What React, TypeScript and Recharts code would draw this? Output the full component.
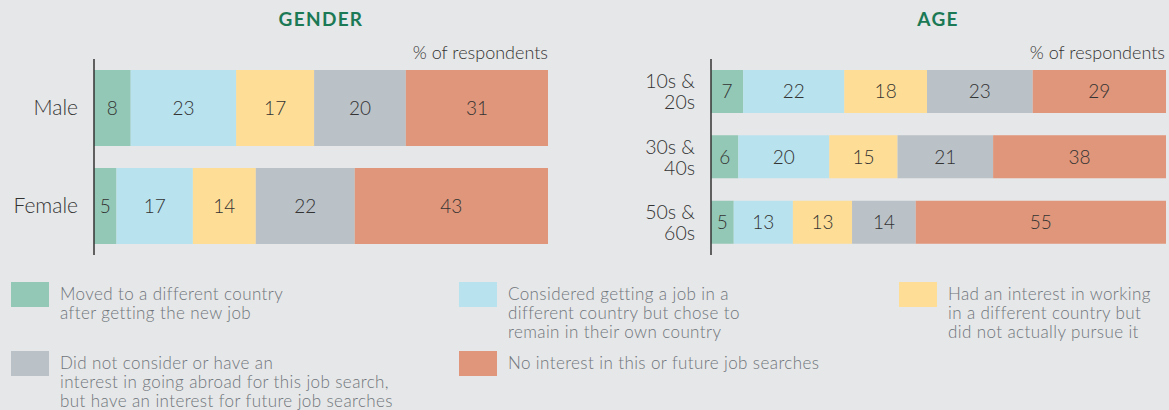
import { BarChart, Bar, XAxis, YAxis, LabelList } from 'recharts';

const seriesKeys = ['moved', 'considered', 'interested', 'notNow', 'noInterest'];
const seriesNames = [
  ['Moved to a different country', 'after getting the new job'],
  ['Considered getting a job in a', 'different country but chose to', 'remain in their own country'],
  ['Had an interest in working', 'in a different country but', 'did not actually pursue it'],
  ['Did not consider or have an', 'interest in going abroad for this job search,', 'but have an interest for future job searches'],
  ['No interest in this or future job searches'],
];
const seriesColors = ['#93c8b6', '#b8e2ee', '#fedd96', '#bac1c7', '#e0967a'];

const genderCategories = ['Male', 'Female'];
const genderMoved = [8, 5];
const genderConsidered = [23, 17];
const genderInterested = [17, 14];
const genderNotNow = [20, 22];
const genderNoInterest = [31, 43];

const ageCategories = ['10s & 20s', '30s & 40s', '50s & 60s'];
const ageMoved = [7, 6, 5];
const ageConsidered = [22, 20, 13];
const ageInterested = [18, 15, 13];
const ageNotNow = [23, 21, 14];
const ageNoInterest = [29, 38, 55];

const buildRows = (cats: string[], cols: number[][]) =>
  cats.map((name, i) => {
    const row: Record<string, string | number> = { name };
    seriesKeys.forEach((k, j) => (row[k] = cols[j][i]));
    return row;
  });

const genderData = buildRows(genderCategories, [genderMoved, genderConsidered, genderInterested, genderNotNow, genderNoInterest]);
const ageData = buildRows(ageCategories, [ageMoved, ageConsidered, ageInterested, ageNotNow, ageNoInterest]);

const FONT = 'Lato, "Open Sans", sans-serif';
const INK = '#333333';

function SingleTick({ x, y, payload }: any) {
  return (
    <text x={x} y={y} dy="0.35em" textAnchor="end" fill={INK} fontSize={21} fontWeight={300} fontFamily={FONT}>
      {payload.value}
    </text>
  );
}

function TwoLineTick({ x, y, payload }: any) {
  const parts = String(payload.value).split('& ');
  return (
    <g>
      <text x={x} y={y - 10} dy="0.35em" textAnchor="end" fill={INK} fontSize={19.5} fontWeight={300} fontFamily={FONT}>
        {parts[0] + '&'}
      </text>
      <text x={x} y={y + 11} dy="0.35em" textAnchor="end" fill={INK} fontSize={19.5} fontWeight={300} fontFamily={FONT}>
        {parts[1]}
      </text>
    </g>
  );
}

function StackedPanel({ data, width, yWidth, rightMargin, tick }: any) {
  return (
    <BarChart
      width={width}
      height={260}
      data={data}
      layout="vertical"
      stackOffset="expand"
      barCategoryGap={11}
      margin={{ top: 59, right: rightMargin, left: 0, bottom: 5 }}
    >
      <XAxis type="number" hide />
      <YAxis
        type="category"
        dataKey="name"
        width={yWidth}
        tickLine={false}
        tickSize={0}
        tickMargin={16}
        axisLine={{ stroke: '#333', strokeWidth: 1.5 }}
        tick={tick}
        interval={0}
      />
      {seriesKeys.map((k, i) => (
        <Bar key={k} dataKey={k} stackId="a" fill={seriesColors[i]} isAnimationActive={false}>
          <LabelList dataKey={k} position="center" fill={INK} fontSize={19} fontWeight={300} fontFamily={FONT} />
        </Bar>
      ))}
    </BarChart>
  );
}

const titleStyle: React.CSSProperties = {
  position: 'absolute',
  top: 7,
  color: '#1b7a55',
  fontFamily: FONT,
  fontWeight: 700,
  fontSize: 19,
  letterSpacing: 1.3,
  transform: 'translateX(-50%)',
  whiteSpace: 'nowrap',
};

const unitStyle: React.CSSProperties = {
  position: 'absolute',
  top: 41,
  color: INK,
  fontFamily: FONT,
  fontWeight: 300,
  fontSize: 18,
  whiteSpace: 'nowrap',
  textAlign: 'right',
};

const legendPos = [
  { left: 11, top: 282 },
  { left: 459, top: 282 },
  { left: 899, top: 282 },
  { left: 11, top: 351 },
  { left: 459, top: 351 },
];

export default function App() {
  return (
    <div style={{ position: 'absolute', left: 0, top: 0, width: 1169, height: 410, background: '#e6e7e8', overflow: 'hidden' }}>
      <div style={{ ...titleStyle, left: 321 }}>GENDER</div>
      <div style={{ ...titleStyle, left: 938 }}>AGE</div>
      <div style={{ ...unitStyle, right: 1169 - 548 }}>% of respondents</div>
      <div style={{ ...unitStyle, right: 1169 - 1165 }}>% of respondents</div>

      <div style={{ position: 'absolute', left: 0, top: 0 }}>
        <StackedPanel data={genderData} width={560} yWidth={94} rightMargin={12} tick={<SingleTick />} />
      </div>
      <div style={{ position: 'absolute', left: 580, top: 0 }}>
        <StackedPanel data={ageData} width={589} yWidth={131} rightMargin={3} tick={<TwoLineTick />} />
      </div>

      {seriesKeys.map((k, i) => (
        <div key={k} style={{ position: 'absolute', left: legendPos[i].left, top: legendPos[i].top, display: 'flex' }}>
          <div style={{ width: 38, height: 25, background: seriesColors[i], flexShrink: 0 }} />
          <div
            style={{
              marginLeft: 11,
              marginTop: 2,
              fontFamily: FONT,
              fontWeight: 300,
              fontSize: 17,
              letterSpacing: 0.4,
              lineHeight: '19px',
              color: '#6f757b',
              whiteSpace: 'nowrap',
            }}
          >
            {seriesNames[i].map((line) => (
              <div key={line}>{line}</div>
            ))}
          </div>
        </div>
      ))}
    </div>
  );
}
